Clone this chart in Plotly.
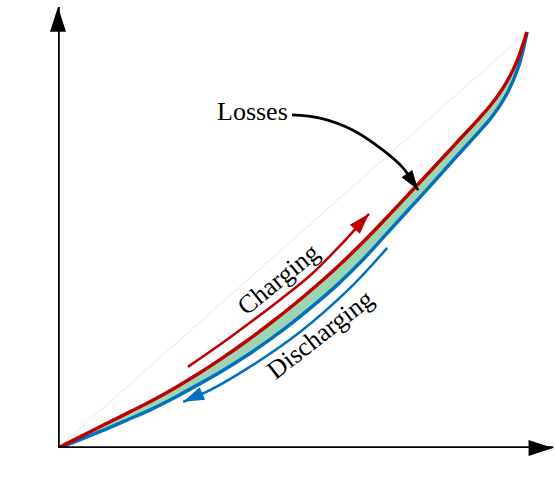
import plotly.graph_objects as go

# ---- data (arbitrary units, axis end = 100) ----
Q = [0, 5, 10, 15, 20, 25, 30, 35, 40, 45, 50, 55, 60, 65, 70, 75, 80, 85, 90,
     92, 94, 96, 98, 99, 100]
V_charging = [0, 2.85, 5.7, 8.5, 11.35, 14.5, 17.9, 21.6, 25.55, 29.75, 34.2, 38.95,
              44.0, 49.45, 55.3, 61.3, 67.3, 73.4, 79.5, 82.1, 85.05, 88.65, 93.35,
              96.6, 100]
V_discharging = [0, 2.15, 4.4, 6.85, 9.35, 12.2, 15.3, 18.5, 22.05, 25.95, 30.15, 34.75,
                 39.7, 45.25, 51.4, 57.6, 63.8, 70.1, 76.3, 78.9, 81.95, 85.75, 91.05,
                 94.9, 100]

# decorative arrows (annotation paths)
charge_arrow_x = [27.7, 34.5, 40.9, 47.3, 53.7, 60.1, 66.3]
charge_arrow_y = [19.5, 24.8, 30.1, 35.6, 41.4, 48.6, 56.3]
discharge_arrow_x = [70.2, 62.3, 51.6, 40.9, 32.4, 26.7]
discharge_arrow_y = [48.1, 38.5, 27.9, 19.5, 13.9, 11.1]
loss_arrow_x = [49.9, 55.9, 62.9, 69.3, 73.6, 76.8]
loss_arrow_y = [80.1, 79.3, 76.4, 71.6, 67.3, 62.0]

RED = "#C00000"
BLUE = "#0070C0"
GREEN = "#9DD5B0"
FONT = "Liberation Serif"

X_MAX = 105.97
Y_MAX = 107.7

fig = go.Figure()

# reference diagonal
fig.add_trace(go.Scatter(x=[0, 100], y=[0, 100], mode="lines",
                         line=dict(color="#DCEEE7", width=1), hoverinfo="skip"))

# discharging curve then charging curve with fill in between
fig.add_trace(go.Scatter(x=Q, y=V_discharging, mode="lines",
                         line=dict(color=BLUE, width=3.5, shape="spline", smoothing=1)))
fig.add_trace(go.Scatter(x=Q, y=V_charging, mode="lines", fill="tonexty",
                         fillcolor=GREEN,
                         line=dict(color=RED, width=3.5, shape="spline", smoothing=1)))


def arrow_trace(xs, ys, color, width, head):
    sizes = [0] * (len(xs) - 1) + [head]
    return go.Scatter(x=xs, y=ys, mode="lines+markers",
                      line=dict(color=color, width=width, shape="spline"),
                      marker=dict(symbol="arrow", size=sizes, color=color, opacity=1,
                                  angleref="previous", line=dict(width=0)),
                      cliponaxis=False, hoverinfo="skip")


fig.add_trace(arrow_trace(charge_arrow_x, charge_arrow_y, RED, 2.5, 22))
fig.add_trace(arrow_trace(discharge_arrow_x, discharge_arrow_y, BLUE, 2.5, 22))
fig.add_trace(arrow_trace(loss_arrow_x, loss_arrow_y, "black", 2.7, 21))

# axes with arrows
fig.add_trace(arrow_trace([0, 105.6], [0, 0], "black", 3.5, 26))
fig.add_trace(arrow_trace([0, 0], [0, 106.0], "black", 3.5, 26))

ann_font = dict(family=FONT, size=26, color="black")
fig.add_annotation(x=41.4, y=81.0, text="Losses", showarrow=False, font=ann_font)
fig.add_annotation(x=46.9, y=40.6, text="Charging", showarrow=False,
                   font=ann_font, textangle=-39)
fig.add_annotation(x=55.9, y=27.2, text="Discharging", showarrow=False,
                   font=ann_font, textangle=-38)
fig.add_annotation(x=-5.6, y=52.9, text="<i>V</i><sub><i>ds</i></sub> [V]",
                   showarrow=False, font=ann_font, textangle=-90)
fig.add_annotation(x=52.7, y=-5.8, text="<i>Q</i><sub><i>oss</i></sub>  [nC]",
                   showarrow=False, font=ann_font)

fig.update_layout(
    width=555, height=491, autosize=False,
    margin=dict(l=58, r=0, t=0, b=43, pad=0),
    plot_bgcolor="white", paper_bgcolor="white",
    showlegend=False, hovermode=False,
    xaxis=dict(visible=False, range=[0, X_MAX], fixedrange=True),
    yaxis=dict(visible=False, range=[0, Y_MAX], fixedrange=True),
)

fig.write_html("out.html", config={"displayModeBar": False},
               post_script="document.body.style.margin='0px';")
